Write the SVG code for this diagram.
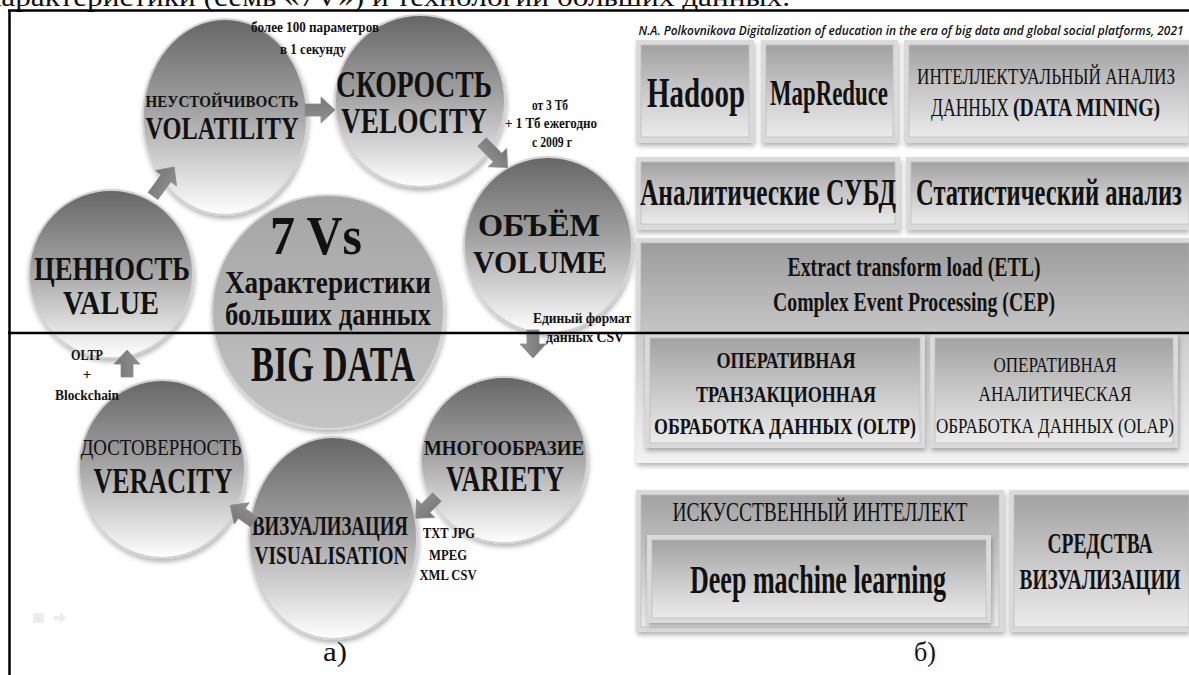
<svg xmlns="http://www.w3.org/2000/svg" width="1189" height="675" viewBox="0 0 1189 675">
<defs>
<linearGradient id="gSph" x1="0" y1="0" x2="0" y2="1">
<stop offset="0" stop-color="#666666"/><stop offset="0.45" stop-color="#a0a0a0"/><stop offset="1" stop-color="#ffffff"/>
</linearGradient>
<linearGradient id="gCen" x1="0" y1="0" x2="0" y2="1">
<stop offset="0" stop-color="#a4a4a4"/><stop offset="1" stop-color="#c4c4c4"/>
</linearGradient>
<linearGradient id="gBox" x1="0" y1="0" x2="0" y2="1">
<stop offset="0" stop-color="#a2a2a2"/><stop offset="0.5" stop-color="#c8c8c8"/><stop offset="1" stop-color="#ebebeb"/>
</linearGradient>
<linearGradient id="gEtl" x1="0" y1="0" x2="0" y2="1">
<stop offset="0" stop-color="#9c9c9c"/><stop offset="1" stop-color="#c6c6c6"/>
</linearGradient>
<linearGradient id="gLight" x1="0" y1="0" x2="0" y2="1">
<stop offset="0" stop-color="#cdcdcd"/><stop offset="1" stop-color="#f3f3f3"/>
</linearGradient>
<linearGradient id="gArr" x1="0" y1="0" x2="0" y2="1">
<stop offset="0" stop-color="#747474"/><stop offset="1" stop-color="#929292"/>
</linearGradient>
<filter id="sh" x="-20%" y="-20%" width="140%" height="140%">
<feDropShadow dx="1" dy="3" stdDeviation="2.5" flood-color="#000" flood-opacity="0.3"/>
</filter>
<style>
.sph{fill:url(#gSph);stroke:#d2d2d2;stroke-width:2;filter:url(#sh)}
.cen{fill:url(#gCen);stroke:#d6d6d6;stroke-width:2;filter:url(#sh)}
.bev{fill:#dadada;filter:url(#sh)}
.face{fill:url(#gBox);stroke:#bdbdbd;stroke-width:0.8}
.etl{fill:url(#gEtl);stroke:#b5b5b5;stroke-width:0.8}
.lt{fill:url(#gLight)}
.arr{fill:url(#gArr);stroke:#8a8a8a;stroke-width:0.8}
text{font-family:"Liberation Serif","Times New Roman",serif;fill:#111;text-anchor:middle}
.b{font-weight:bold}
.s{text-anchor:start}
.ln{stroke:#000;stroke-width:2.5;fill:none}
</style>
</defs>
<rect width="1189" height="675" fill="#fff"/>

<text class="s" x="-14" y="6" font-size="28" textLength="804" lengthAdjust="spacingAndGlyphs">характеристики (семь «7V») и технологии больших данных.</text>

<!-- left panel -->
<g id="n-volatility">
<ellipse class="sph" cx="225" cy="117" rx="82" ry="98"/>
<text class="b" x="222" y="107" font-size="17" textLength="153" lengthAdjust="spacingAndGlyphs">НЕУСТОЙЧИВОСТЬ</text>
<text class="b" x="222" y="139" font-size="32" textLength="153" lengthAdjust="spacingAndGlyphs">VOLATILITY</text>
</g>
<g id="n-velocity">
<ellipse class="sph" cx="420" cy="101" rx="85" ry="86"/>
<text class="b" x="414" y="97" font-size="38" textLength="156" lengthAdjust="spacingAndGlyphs">СКОРОСТЬ</text>
<text class="b" x="414" y="133" font-size="36" textLength="146" lengthAdjust="spacingAndGlyphs">VELOCITY</text>
</g>
<g id="n-volume">
<ellipse class="sph" cx="548" cy="245" rx="84" ry="88"/>
<text class="b" x="539" y="236" font-size="31" textLength="122" lengthAdjust="spacingAndGlyphs">ОБЪЁМ</text>
<text class="b" x="540" y="273" font-size="31" textLength="134" lengthAdjust="spacingAndGlyphs">VOLUME</text>
</g>
<g id="n-variety">
<ellipse class="sph" cx="504" cy="460" rx="83" ry="83"/>
<text class="b" x="504" y="455" font-size="22" textLength="160" lengthAdjust="spacingAndGlyphs">МНОГООБРАЗИЕ</text>
<text class="b" x="505" y="491" font-size="35" textLength="118" lengthAdjust="spacingAndGlyphs">VARIETY</text>
</g>
<g id="n-visual">
<ellipse class="sph" cx="333" cy="538" rx="84" ry="101"/>
<text class="b" x="330" y="535" font-size="27" textLength="156" lengthAdjust="spacingAndGlyphs">ВИЗУАЛИЗАЦИЯ</text>
<text class="b" x="331" y="564" font-size="25" textLength="153" lengthAdjust="spacingAndGlyphs">VISUALISATION</text>
</g>
<g id="n-veracity">
<ellipse class="sph" cx="162" cy="469" rx="83" ry="89"/>
<text x="161" y="455" font-size="23" textLength="161" lengthAdjust="spacingAndGlyphs">ДОСТОВЕРНОСТЬ</text>
<text class="b" x="163" y="493" font-size="35" textLength="139" lengthAdjust="spacingAndGlyphs">VERACITY</text>
</g>
<g id="n-value">
<ellipse class="sph" cx="111" cy="274" rx="82" ry="84"/>
<text class="b" x="112" y="280" font-size="34" textLength="156" lengthAdjust="spacingAndGlyphs">ЦЕННОСТЬ</text>
<text class="b" x="111" y="314" font-size="34" textLength="96" lengthAdjust="spacingAndGlyphs">VALUE</text>
</g>
<g id="n-center">
<ellipse class="cen" cx="328" cy="312" rx="116" ry="117"/>
<text class="b" x="316" y="254" font-size="54" textLength="92" lengthAdjust="spacingAndGlyphs">7 Vs</text>
<text class="b" x="328" y="293" font-size="31" textLength="206" lengthAdjust="spacingAndGlyphs">Характеристики</text>
<text class="b" x="328" y="325" font-size="31" textLength="206" lengthAdjust="spacingAndGlyphs">больших данных</text>
<text class="b" x="333" y="381" font-size="50" textLength="164" lengthAdjust="spacingAndGlyphs">BIG DATA</text>
</g>

<g id="connectors">
<polygon class="arr" transform="translate(153,196) rotate(-54)" points="0,-6 22,-6 22,-13 36,0 22,13 22,6 0,6"/>
<polygon class="arr" transform="translate(305,110) rotate(0)" points="0,-6 16,-6 16,-13 30,0 16,13 16,6 0,6"/>
<polygon class="arr" transform="translate(482,142) rotate(45)" points="0,-6 22,-6 22,-13 36,0 22,13 22,6 0,6"/>
<polygon class="arr" transform="translate(533,330) rotate(90)" points="0,-6 14,-6 14,-13 28,0 14,13 14,6 0,6"/>
<polygon class="arr" transform="translate(437,497) rotate(135)" points="0,-6 16,-6 16,-13 30,0 16,13 16,6 0,6"/>
<polygon class="arr" transform="translate(254,522) rotate(-145)" points="0,-6 15,-6 15,-13 29,0 15,13 15,6 0,6"/>
<polygon class="arr" transform="translate(127,377) rotate(-90)" points="0,-6 13,-6 13,-13 27,0 13,13 13,6 0,6"/>
</g>

<g id="labels">
<text class="b" x="315" y="32" font-size="15" textLength="128" lengthAdjust="spacingAndGlyphs">более 100 параметров</text>
<text class="b" x="313" y="54" font-size="15" textLength="66" lengthAdjust="spacingAndGlyphs">в 1 секунду</text>
<text class="b" x="550" y="110" font-size="15" textLength="36" lengthAdjust="spacingAndGlyphs">от 3 Тб</text>
<text class="b" x="551" y="128" font-size="15" textLength="92" lengthAdjust="spacingAndGlyphs">+ 1 Тб ежегодно</text>
<text class="b" x="552" y="147" font-size="15" textLength="40" lengthAdjust="spacingAndGlyphs">с 2009 г</text>
<text class="b" x="582" y="323" font-size="15" textLength="98" lengthAdjust="spacingAndGlyphs">Единый формат</text>
<text class="b" x="585" y="342" font-size="15" textLength="78" lengthAdjust="spacingAndGlyphs">данных CSV</text>
<text class="b" x="87" y="360" font-size="15" textLength="32" lengthAdjust="spacingAndGlyphs">OLTP</text>
<text class="b" x="87" y="379" font-size="15">+</text>
<text class="b" x="87" y="400" font-size="15" textLength="64" lengthAdjust="spacingAndGlyphs">Blockchain</text>
<text class="b" x="449" y="538" font-size="15" textLength="52" lengthAdjust="spacingAndGlyphs">TXT JPG</text>
<text class="b" x="448" y="560" font-size="15" textLength="38" lengthAdjust="spacingAndGlyphs">MPEG</text>
<text class="b" x="448" y="580" font-size="15" textLength="57" lengthAdjust="spacingAndGlyphs">XML CSV</text>
</g>
<g id="nav" fill="#ececec">
<rect x="33" y="613" width="11" height="10"/>
<polygon points="54,616 60,616 60,612 66,618 60,624 60,620 54,620"/>
</g>
<text x="335" y="661" font-size="28" textLength="24" lengthAdjust="spacingAndGlyphs">а)</text>

<!-- right panel -->
<text x="911" y="35" font-size="12" style="font-family:'Open Sans','Liberation Sans',sans-serif;font-style:italic;font-weight:600" textLength="545" lengthAdjust="spacingAndGlyphs">N.A. Polkovnikova Digitalization of education in the era of big data and global social platforms, 2021</text>

<g id="b-hadoop">
<rect class="bev" x="636" y="40" width="118" height="103"/>
<rect class="face" x="641" y="45" width="108" height="92"/>
<text class="b" x="696" y="107" font-size="42" textLength="98" lengthAdjust="spacingAndGlyphs">Hadoop</text>
</g>
<g id="b-mapreduce">
<rect class="bev" x="761" y="40" width="137" height="103"/>
<rect class="face" x="766" y="45" width="127" height="92"/>
<text class="b" x="829" y="105" font-size="35" textLength="118" lengthAdjust="spacingAndGlyphs">MapReduce</text>
</g>
<g id="b-datamining">
<rect class="bev" x="904" y="40" width="285" height="103"/>
<rect class="face" x="909" y="45" width="280" height="92"/>
<text x="1046" y="84" font-size="23" textLength="258" lengthAdjust="spacingAndGlyphs">ИНТЕЛЛЕКТУАЛЬНЫЙ АНАЛИЗ</text>
<text class="s" x="931" y="116" font-size="26" textLength="78" lengthAdjust="spacingAndGlyphs">ДАННЫХ</text>
<text class="s b" x="1013" y="116" font-size="26" textLength="147" lengthAdjust="spacingAndGlyphs">(DATA MINING)</text>
</g>
<g id="b-subd">
<rect class="bev" x="636" y="157" width="264" height="73"/>
<rect class="face" x="641" y="162" width="254" height="62"/>
<text class="b" x="768" y="205" font-size="37" textLength="256" lengthAdjust="spacingAndGlyphs">Аналитические СУБД</text>
</g>
<g id="b-stat">
<rect class="bev" x="906" y="157" width="283" height="73"/>
<rect class="face" x="911" y="162" width="278" height="62"/>
<text class="b" x="1049" y="205" font-size="37" textLength="266" lengthAdjust="spacingAndGlyphs">Статистический анализ</text>
</g>
<g id="b-etl">
<rect class="bev" x="636" y="238" width="553" height="98"/>
<rect class="etl" x="641" y="243" width="548" height="90"/>
<text class="b" x="914" y="276" font-size="28" textLength="253" lengthAdjust="spacingAndGlyphs">Extract transform load (ETL)</text>
<text class="b" x="914" y="311" font-size="28" textLength="282" lengthAdjust="spacingAndGlyphs">Complex Event Processing (CEP)</text>
</g>
<g id="b-olap-row">
<rect class="lt" x="636" y="334" width="553" height="129" filter="url(#sh)"/>
</g>
<g id="b-oltp">
<rect class="bev" x="645" y="334" width="280" height="114"/>
<rect class="face" x="650" y="338" width="270" height="105"/>
<text class="b" x="786" y="368" font-size="24" textLength="139" lengthAdjust="spacingAndGlyphs">ОПЕРАТИВНАЯ</text>
<text class="b" x="786" y="402" font-size="24" textLength="180" lengthAdjust="spacingAndGlyphs">ТРАНЗАКЦИОННАЯ</text>
<text class="b" x="785" y="434" font-size="24" textLength="262" lengthAdjust="spacingAndGlyphs">ОБРАБОТКА ДАННЫХ (OLTP)</text>
</g>
<g id="b-olap">
<rect class="bev" x="930" y="334" width="248" height="114"/>
<rect class="face" x="935" y="338" width="238" height="105"/>
<text x="1055" y="372" font-size="22" textLength="123" lengthAdjust="spacingAndGlyphs">ОПЕРАТИВНАЯ</text>
<text x="1055" y="401" font-size="22" textLength="153" lengthAdjust="spacingAndGlyphs">АНАЛИТИЧЕСКАЯ</text>
<text x="1055" y="433" font-size="22" textLength="238" lengthAdjust="spacingAndGlyphs">ОБРАБОТКА ДАННЫХ (OLAP)</text>
</g>
<g id="b-ai">
<rect class="bev" x="636" y="490" width="368" height="142"/>
<rect class="face" x="641" y="495" width="358" height="132"/>
<text x="820" y="521" font-size="28" textLength="295" lengthAdjust="spacingAndGlyphs">ИСКУССТВЕННЫЙ ИНТЕЛЛЕКТ</text>
</g>
<g id="b-deep">
<rect class="bev" x="647" y="535" width="344" height="88"/>
<rect class="face" x="652" y="540" width="334" height="78"/>
<text class="b" x="818" y="593" font-size="40" textLength="256" lengthAdjust="spacingAndGlyphs">Deep machine learning</text>
</g>
<g id="b-vis">
<rect class="bev" x="1009" y="490" width="180" height="142"/>
<rect class="face" x="1014" y="495" width="175" height="132"/>
<text class="b" x="1100" y="553" font-size="30" textLength="105" lengthAdjust="spacingAndGlyphs">СРЕДСТВА</text>
<text class="b" x="1100" y="589" font-size="30" textLength="161" lengthAdjust="spacingAndGlyphs">ВИЗУАЛИЗАЦИИ</text>
</g>
<text x="925" y="661" font-size="28" textLength="22" lengthAdjust="spacingAndGlyphs">б)</text>

<!-- frame lines -->
<g id="frame">
<line class="ln" x1="8" y1="10.5" x2="1189" y2="10.5"/>
<line class="ln" x1="9.5" y1="10" x2="9.5" y2="675"/>
<line class="ln" x1="8" y1="333" x2="1189" y2="333" stroke-width="2"/>
</g>
</svg>
